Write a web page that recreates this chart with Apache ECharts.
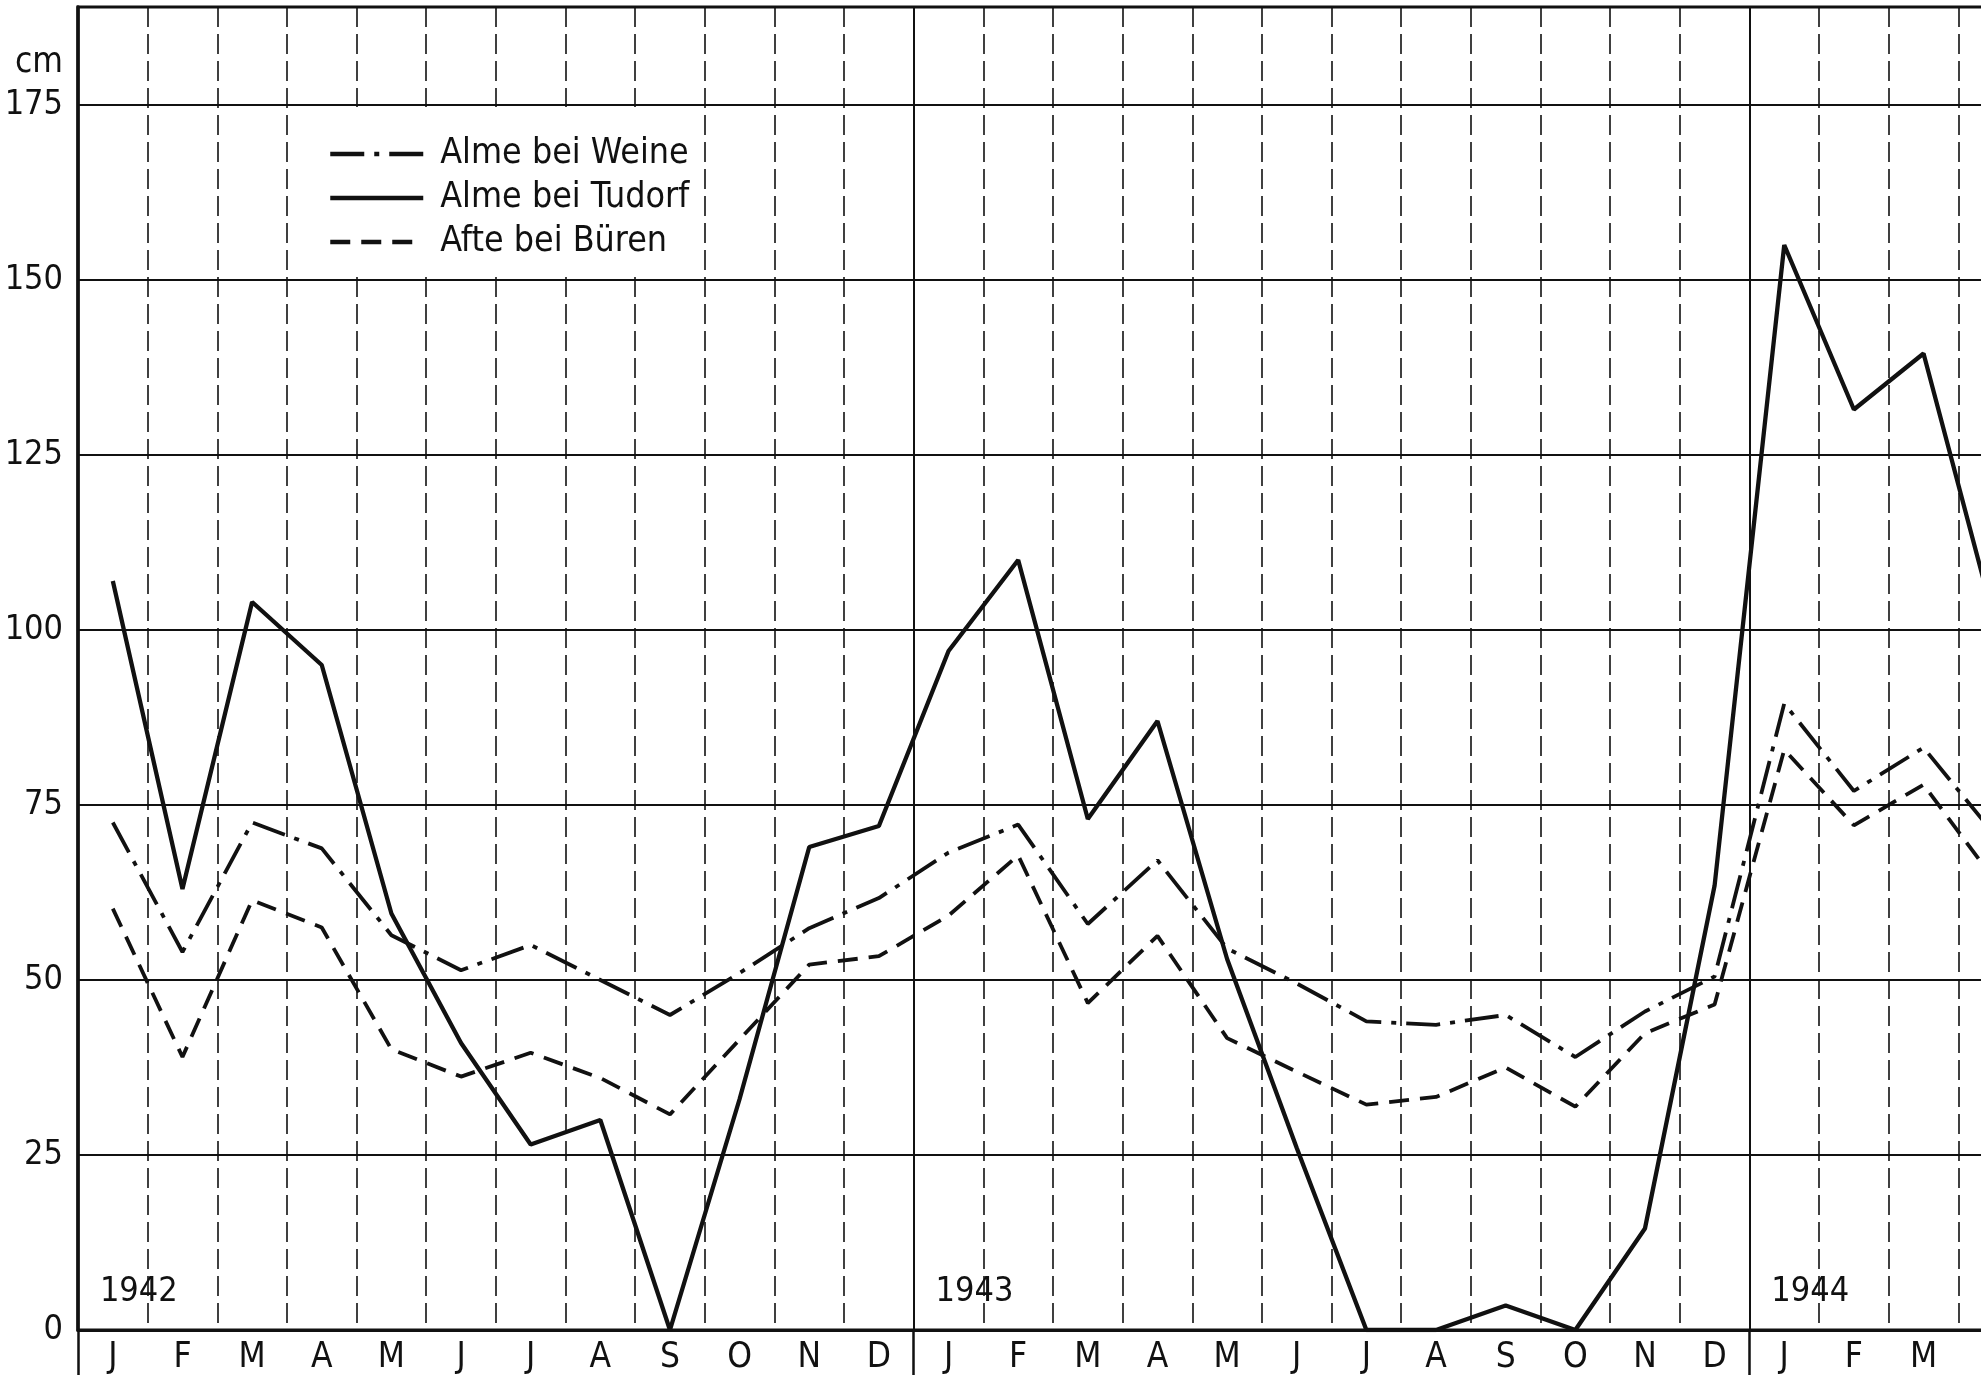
<!DOCTYPE html>
<html>
<head>
<meta charset="utf-8">
<script src="https://cdn.jsdelivr.net/npm/echarts@6/dist/echarts.min.js"></script>
<style>
html,body{margin:0;padding:0;background:#fff;}
#chart{width:1981px;height:1375px;}
</style>
</head>
<body>
<div id="chart"></div>
<script>
// Categories (month keys) and their tick letters
const categories = ['J42','F42','M42','A42','Y42','U42','L42','G42','S42','O42','N42','D42',
                    'J43','F43','M43','A43','Y43','U43','L43','G43','S43','O43','N43','D43',
                    'J44','F44','M44','A44'];
const monthLetters = ['J','F','M','A','M','J','J','A','S','O','N','D',
                      'J','F','M','A','M','J','J','A','S','O','N','D',
                      'J','F','M','A'];
const yearLabels = ['1942','1943','1944'];
const yearStart = ['J42','J43','J44'];

// Series values (cm)
const almeWeine = [72.5, 54, 72.5, 68.8, 56.4, 51.4, 55, 50, 45, 51, 57.4, 61.7,
                   68.2, 72.2, 58, 67.1, 54.5, 49.5, 44.1, 43.6, 45, 39, 45.5, 50.5,
                   89.5, 77, 83.2, 71];
const almeTudorf = [107, 63, 104, 95, 59.5, 41, 26.5, 30, 0, 33, 69, 72,
                    97, 110, 73, 87, 53, 26, 0, 0, 3.5, 0, 14.5, 63.5,
                    155, 131.5, 139.5, 102];
const afteBueren = [60.2, 39, 61.4, 57.5, 40.1, 36.2, 39.6, 36, 30.8, 41.5, 52.2, 53.4,
                    59.2, 67.8, 46.7, 56.3, 41.7, 36.9, 32.2, 33.3, 37.5, 31.9, 42.4, 46.5,
                    82.9, 72.1, 77.9, 64.5];

const seriesNames = ['Alme bei Weine', 'Alme bei Tudorf', 'Afte bei Büren'];

const FONT = "'Liberation Sans Narrow', 'DejaVu Sans Condensed', 'Liberation Sans', sans-serif";
const INK = '#111';
const dashWeine = [34, 10, 5, 10];
const dashBueren = [20, 11];

const chart = echarts.init(document.getElementById('chart'), null, {renderer: 'canvas'});

const option = {
  backgroundColor: '#fff',
  animation: false,
  textStyle: {fontFamily: FONT, color: INK},
  grid: {left: 78, top: 7, width: 1950, height: 1323, show: true, borderColor: INK, borderWidth: 3,
         containLabel: false, outerBoundsMode: 'none'},
  legend: {
    orient: 'vertical',
    left: 290,
    top: 107,
    padding: [25, 10, 12, 38],
    backgroundColor: '#fff',
    itemWidth: 93,
    itemHeight: 20,
    itemGap: 0,
    itemStyle: {opacity: 0},
    data: [
      {name: seriesNames[0], lineStyle: {width: 4.5, type: dashWeine, color: INK}},
      {name: seriesNames[1], lineStyle: {width: 4.5, type: 'solid', color: INK}},
      {name: seriesNames[2], lineStyle: {width: 4.5, type: dashBueren, color: INK}}
    ],
    textStyle: {fontFamily: FONT, fontSize: 35.5, color: INK, lineHeight: 44, padding: [0, 0, 0, 12]}
  },
  xAxis: [
    {
      type: 'category',
      data: categories,
      boundaryGap: true,
      position: 'bottom',
      axisLine: {show: true, lineStyle: {color: INK, width: 3}},
      axisTick: {show: false},
      axisLabel: {
        show: true, interval: 0, fontFamily: FONT, fontSize: 35, color: INK, margin: 10,
        formatter: function (v) { return monthLetters[categories.indexOf(v)]; }
      },
      splitLine: {
        show: true,
        interval: function (i) { return i % 12 !== 0; },
        lineStyle: {color: INK, width: 1.6, type: [20, 7]}
      }
    },
    {
      type: 'category',
      data: categories,
      boundaryGap: true,
      position: 'bottom',
      axisLine: {show: false},
      axisLabel: {show: false},
      axisTick: {
        show: true, length: 46,
        interval: function (i) { return i % 12 === 0; },
        lineStyle: {color: INK, width: 2.5}
      },
      splitLine: {
        show: true,
        interval: function (i) { return i % 12 === 0 && i > 0; },
        lineStyle: {color: INK, width: 2, type: 'solid'}
      }
    }
  ],
  yAxis: {
    type: 'value',
    min: 0, max: 189, interval: 25,
    name: 'cm',
    nameLocation: 'end',
    nameGap: -56,
    nameTextStyle: {fontFamily: FONT, fontSize: 35, color: INK, align: 'right', verticalAlign: 'middle', padding: [0, 15, 0, 0]},
    axisLine: {show: true, lineStyle: {color: INK, width: 3.5}},
    axisTick: {show: false},
    axisLabel: {fontFamily: FONT, fontSize: 34, color: INK, margin: 15, showMaxLabel: false},
    splitLine: {show: true, lineStyle: {color: INK, width: 2}}
  },
  series: [
    {
      name: seriesNames[0], type: 'line', data: almeWeine,
      symbol: 'none', showSymbol: false,
      lineStyle: {color: INK, width: 3.8, type: dashWeine},
      itemStyle: {color: INK}
    },
    {
      name: seriesNames[1], type: 'line', data: almeTudorf,
      symbol: 'none', showSymbol: false,
      lineStyle: {color: INK, width: 4.3, type: 'solid'},
      itemStyle: {color: INK},
      markPoint: {
        symbol: 'rect', symbolSize: 1,
        itemStyle: {color: 'rgba(0,0,0,0)'},
        label: {show: true, position: 'inside', offset: [26, 0], fontFamily: FONT, fontSize: 34, color: INK,
                formatter: function (p) { return p.name; }},
        data: yearLabels.map(function (y, k) { return {name: y, coord: [yearStart[k], 5.4]}; })
      }
    },
    {
      name: seriesNames[2], type: 'line', data: afteBueren,
      symbol: 'none', showSymbol: false,
      lineStyle: {color: INK, width: 3.8, type: dashBueren},
      itemStyle: {color: INK}
    }
  ]
};
chart.setOption(option);
</script>
</body>
</html>
